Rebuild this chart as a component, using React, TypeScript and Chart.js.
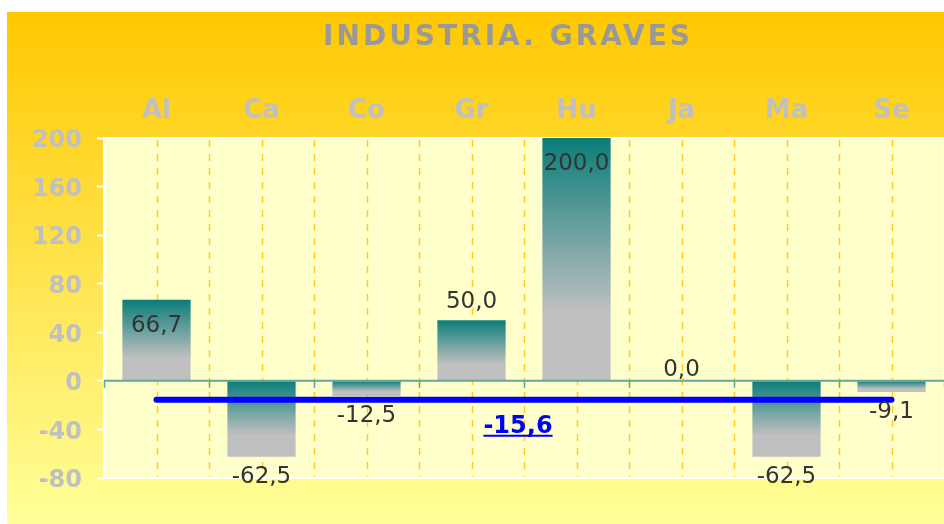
import React, { useEffect, useRef } from 'react';
import { Chart, registerables } from 'chart.js';

Chart.register(...registerables);

// ---- data ----
const TITLE = 'INDUSTRIA. GRAVES';
const CATEGORIES = ['Al', 'Ca', 'Co', 'Gr', 'Hu', 'Ja', 'Ma', 'Se'];
const VALUES = [66.7, -62.5, -12.5, 50.0, 200.0, 0.0, -62.5, -9.1];
const AVERAGE = -15.6;
const Y_MIN = -80;
const Y_MAX = 200;
const Y_STEP = 40;

// ---- style ----
const FONT = '"DejaVu Sans", Verdana, sans-serif';
const TEAL = '#0B7D7A';
const GRAY = '#C0C0C0';
const LABELS_INSIDE = ['Al', 'Hu'];

const fmt = (v: number) => v.toFixed(1).replace('.', ',');

const backgroundPlugin = {
  id: 'bgPlugin',
  beforeDraw(chart: any) {
    const { ctx, chartArea: a, width, height, scales } = chart;
    ctx.save();
    const g = ctx.createLinearGradient(0, 0, 0, height);
    g.addColorStop(0, '#FFC800');
    g.addColorStop(1, '#FFFF99');
    ctx.fillStyle = g;
    ctx.fillRect(0, 0, width, height);
    ctx.fillStyle = '#FFFFCC';
    ctx.fillRect(a.left, a.top, a.right - a.left, a.bottom - a.top);

    const x = scales.x;
    const half = (x.getPixelForValue(1) - x.getPixelForValue(0)) / 2;
    ctx.strokeStyle = '#FFCC22';
    ctx.lineWidth = 1.5;
    ctx.setLineDash([7, 7]);
    for (let i = 0; i < CATEGORIES.length; i++) {
      const c = x.getPixelForValue(i);
      const xs = i > 0 ? [c - half, c] : [c];
      for (const px of xs) {
        ctx.beginPath();
        ctx.moveTo(Math.round(px) + 0.5, a.top + 2);
        ctx.lineTo(Math.round(px) + 0.5, a.bottom);
        ctx.stroke();
      }
    }
    ctx.setLineDash([]);
    ctx.strokeStyle = '#FFFFFF';
    ctx.lineWidth = 2;
    ctx.strokeRect(a.left, a.top, a.right - a.left, a.bottom - a.top);
    ctx.restore();
  },
  afterDraw(chart: any) {
    const { ctx, scales, chartArea: a } = chart;
    ctx.save();
    // y tick labels
    const y = scales.y;
    ctx.font = `bold 24px ${FONT}`;
    ctx.fillStyle = '#C0C0C0';
    ctx.textAlign = 'right';
    ctx.textBaseline = 'middle';
    y.ticks.forEach((t: any) => {
      ctx.fillText(String(t.value), a.left - 22, y.getPixelForValue(t.value) + 3);
    });
    // title
    ctx.font = `bold 28px ${FONT}`;
    try { (ctx as any).letterSpacing = '3px'; } catch (e) {}
    ctx.fillStyle = '#999999';
    ctx.textAlign = 'center';
    ctx.fillText(TITLE, 501, 26);
    ctx.restore();
  },
};

const labelsPlugin = {
  id: 'labelsPlugin',
  afterDatasetsDraw(chart: any) {
    const { ctx, chartArea: a, scales } = chart;
    const x = scales.x;
    const y = scales.y;
    const half = (x.getPixelForValue(1) - x.getPixelForValue(0)) / 2;
    const y0 = y.getPixelForValue(0);
    ctx.save();
    // zero line with ticks
    ctx.strokeStyle = '#62A89A';
    ctx.lineWidth = 2;
    ctx.beginPath();
    ctx.moveTo(a.left, y0);
    ctx.lineTo(a.right, y0);
    ctx.stroke();
    ctx.lineWidth = 1.5;
    for (let i = 0; i <= CATEGORIES.length; i++) {
      const px = Math.round(x.getPixelForValue(0) - half + i * half * 2) + 0.5;
      ctx.beginPath();
      ctx.moveTo(px, y0);
      ctx.lineTo(px, y0 + 7);
      ctx.stroke();
    }

    // data labels
    const meta = chart.getDatasetMeta(0);
    ctx.font = `23px ${FONT}`;
    ctx.fillStyle = '#333333';
    ctx.textAlign = 'center';
    ctx.textBaseline = 'middle';
    meta.data.forEach((el: any, i: number) => {
      const v = VALUES[i];
      const inside = LABELS_INSIDE.includes(CATEGORIES[i]);
      let ly: number;
      if (v > 0) ly = inside ? el.y + 26 : el.y - 18;
      else if (v < 0) ly = el.y + 20;
      else ly = el.y - 11;
      ctx.fillText(fmt(v), el.x, ly);
    });

    // average label
    const ay = y.getPixelForValue(AVERAGE);
    const ax = (x.getPixelForValue(0) + x.getPixelForValue(CATEGORIES.length - 1)) / 2 - 6;
    ctx.font = `bold 24px ${FONT}`;
    ctx.fillStyle = '#0000FF';
    const txt = fmt(AVERAGE);
    ctx.fillText(txt, ax, ay + 27);
    const w = ctx.measureText(txt).width;
    ctx.strokeStyle = '#0000FF';
    ctx.lineWidth = 2;
    ctx.beginPath();
    ctx.moveTo(ax - w / 2, ay + 36);
    ctx.lineTo(ax + w / 2, ay + 36);
    ctx.stroke();
    ctx.restore();
  },
};

export default function App() {
  const canvasRef = useRef<HTMLCanvasElement | null>(null);

  useEffect(() => {
    if (!canvasRef.current) return;
    const chart = new Chart(canvasRef.current, {
      type: 'bar',
      data: {
        labels: CATEGORIES,
        datasets: [
          {
            type: 'bar',
            data: VALUES,
            order: 1,
            barPercentage: 0.65,
            categoryPercentage: 1,
            borderWidth: 0,
            backgroundColor: (c: any) => {
              const chart = c.chart;
              const ys = chart.scales?.y;
              if (!ys || c.type !== 'data') return TEAL;
              const v = c.parsed?.y ?? 0;
              const p0 = ys.getPixelForValue(0);
              const p1 = ys.getPixelForValue(v);
              const top = Math.min(p0, p1);
              const bot = Math.max(p0, p1);
              if (!isFinite(top) || bot - top < 1) return GRAY;
              const g = chart.ctx.createLinearGradient(0, top, 0, bot);
              g.addColorStop(0, TEAL);
              g.addColorStop(0.72, GRAY);
              g.addColorStop(1, GRAY);
              return g;
            },
          } as any,
          {
            type: 'line',
            data: CATEGORIES.map(() => AVERAGE),
            order: 0,
            borderColor: '#0000FF',
            borderWidth: 6,
            borderCapStyle: 'round',
            pointRadius: 0,
            fill: false,
          } as any,
        ],
      },
      options: {
        animation: false,
        responsive: false,
        maintainAspectRatio: false,
        layout: { padding: { left: 25, top: 81, right: 0, bottom: 46 } },
        plugins: {
          legend: { display: false },
          tooltip: { enabled: false },
          title: { display: false },
        },
        scales: {
          x: {
            position: 'top',
            offset: true,
            grid: { display: false, drawTicks: false },
            border: { display: false },
            ticks: {
              color: '#C0C0C0',
              font: { family: FONT, size: 26, weight: 'bold' },
              padding: 11,
            },
            afterFit: (s: any) => { s.height = 45; },
          },
          y: {
            min: Y_MIN,
            max: Y_MAX,
            grid: {
              drawOnChartArea: false,
              drawTicks: true,
              tickLength: 7,
              tickColor: '#FFFFFF',
              tickWidth: 2,
            },
            border: { color: '#FFFFFF', width: 2 },
            ticks: {
              stepSize: Y_STEP,
              display: false,
            },
            afterFit: (s: any) => { s.width = 72; },
          },
        },
      } as any,
      plugins: [backgroundPlugin, labelsPlugin],
    });
    return () => chart.destroy();
  }, []);

  return (
    <div style={{ position: 'fixed', left: 7, top: 12, width: 937, height: 512 }}>
      <canvas ref={canvasRef} width={937} height={512} style={{ display: 'block', width: 937, height: 512 }} />
    </div>
  );
}
